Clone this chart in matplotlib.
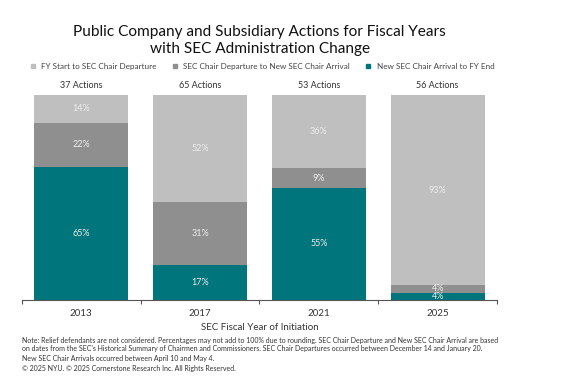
import matplotlib.pyplot as plt
from matplotlib.lines import Line2D
import numpy as np

plt.rcParams['font.family'] = ['Lato', 'DejaVu Sans']

years = ['2013', '2017', '2021', '2025']
totals = [37, 65, 53, 56]
# action counts per period (bottom to top)
arrival_to_end = [24, 11, 29, 2]
departure_to_arrival = [8, 20, 5, 2]
start_to_departure = [5, 34, 19, 52]
labels_arrival = ['65%', '17%', '55%', '4%']
labels_gap = ['22%', '31%', '9%', '4%']
labels_start = ['14%', '52%', '36%', '93%']

series_names = ['FY Start to SEC Chair Departure',
                'SEC Chair Departure to New SEC Chair Arrival',
                'New SEC Chair Arrival to FY End']
colors = ['#BFBFBF', '#8F8F8F', '#00757B']

note_lines = [
    "Note: Relief defendants are not considered. Percentages may not add to 100% due to rounding. "
    "SEC Chair Departure and New SEC Chair Arrival are based",
    "on dates from the SEC's Historical Summary of Chairmen and Commissioners. "
    "SEC Chair Departures occurred between December 14 and January 20.",
    "New SEC Chair Arrivals occurred between April 10 and May 4.",
]
copyright_line = '\u00a9 2025 NYU. \u00a9 2025 Cornerstone Research Inc. All Rights Reserved.'

fig = plt.figure(figsize=(5.61, 3.91), dpi=100)
ax = fig.add_axes([0.039, 0.233, 0.847, 0.524])

x = np.arange(len(years))
tot = np.array(totals, dtype=float)
segs = [np.array(arrival_to_end) / tot,
        np.array(departure_to_arrival) / tot,
        np.array(start_to_departure) / tot]
seg_labels = [labels_arrival, labels_gap, labels_start]
seg_colors = [colors[2], colors[1], colors[0]]

bottom = np.zeros(len(years))
for vals, col, labs in zip(segs, seg_colors, seg_labels):
    ax.bar(x, vals, 0.79, bottom=bottom, color=col, edgecolor='none')
    for xi, b, v, lab in zip(x, bottom, vals, labs):
        ax.text(xi, b + v / 2, lab, ha='center', va='center',
                color='#EDEDED', fontsize=6.5)
    bottom += vals

for xi, t in zip(x, totals):
    ax.text(xi, 1.025, f'{t} Actions', ha='center', va='bottom',
            fontsize=6.5, color='#333333')

ax.set_xlim(-0.5, len(years) - 0.5)
ax.set_ylim(0, 1)
for s in ['top', 'right', 'left']:
    ax.spines[s].set_visible(False)
ax.spines['bottom'].set_color('#555555')
ax.set_yticks([])
ax.set_xticks(np.arange(-0.5, len(years)))
ax.set_xticklabels([])
ax.tick_params(axis='x', length=3, color='#555555')
for xi, yr in zip(x, years):
    ax.text(xi, -0.045, yr, ha='center', va='top', fontsize=7,
            color='#333333', transform=ax.get_xaxis_transform())
ax.text(1.5, -0.115, 'SEC Fiscal Year of Initiation', ha='center', va='top',
        fontsize=7, color='#333333', transform=ax.get_xaxis_transform())

handles = [Line2D([], [], marker='s', linestyle='none', markersize=3.5,
                  color=c) for c in colors]
ax.legend(handles, series_names, loc='center', bbox_to_anchor=(0.5, 1.14),
          ncol=3, frameon=False, fontsize=5.9, handletextpad=0.05,
          columnspacing=1.2, labelcolor='#444444', borderaxespad=0)

fig.text(0.463, 0.935, 'Public Company and Subsidiary Actions for Fiscal Years\nwith SEC Administration Change',
         ha='center', va='top', fontsize=11.1, color='#111111', linespacing=1.2)

for i, line in enumerate(note_lines):
    fig.text(0.039, 1 - (340 + 9 * i) / 391, line, ha='left', va='center',
             fontsize=5.0, color='#333333')
fig.text(0.039, 1 - 369 / 391, copyright_line, ha='left', va='center',
         fontsize=5.0, color='#333333')

fig.savefig('out.png', dpi=100)
